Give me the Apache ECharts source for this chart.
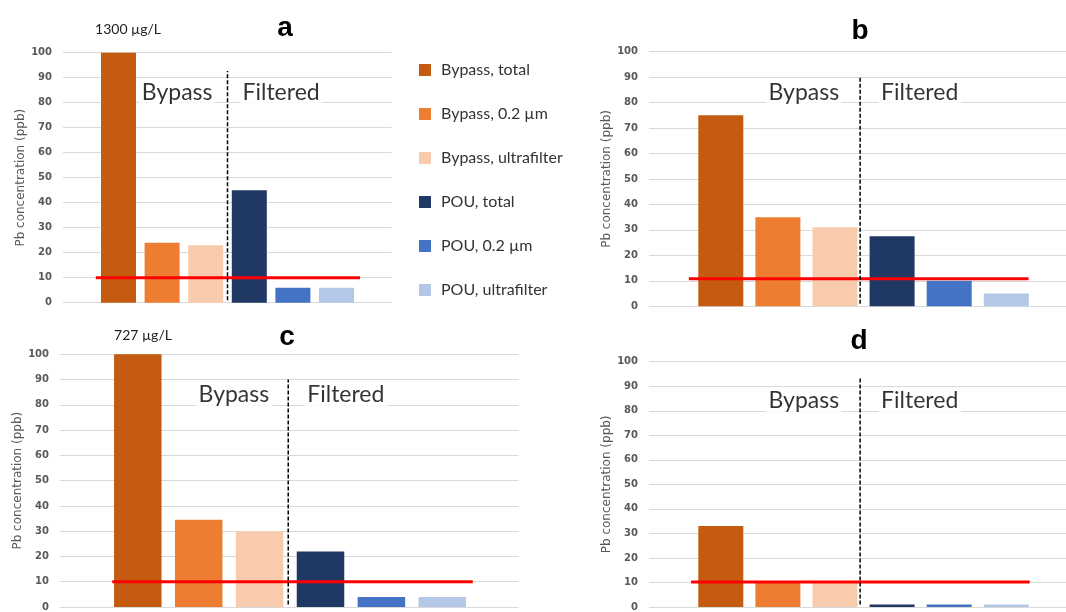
<!DOCTYPE html>
<html>
<head>
<meta charset="utf-8">
<script src="https://cdn.jsdelivr.net/npm/echarts@6/dist/echarts.min.js"></script>
<style>
  html, body { margin: 0; padding: 0; background: #fff; }
  #main { width: 1066px; height: 612px; }
</style>
</head>
<body>
<div id="main"></div>
<script>
// series (one bar per fraction, same in every panel)
var seriesNames = ['Bypass, total', 'Bypass, 0.2 µm', 'Bypass, ultrafilter', 'POU, total', 'POU, 0.2 µm', 'POU, ultrafilter'];

// Pb values (ppb)
var panelA = [1300, 24, 23, 45, 6, 6];
var panelB = [75, 35, 31, 27.5, 10, 5];
var panelC = [727, 34.5, 30, 22, 4, 4];
var panelD = [33, 10, 10, 1, 1, 1];

var panelNames = ['a', 'b', 'c', 'd'];
var offscaleNotes = ['1300 µg/L', '', '727 µg/L', ''];
var actionLevel = [10, 10.8, 10, 10.2];
var yTicks = [0, 10, 20, 30, 40, 50, 60, 70, 80, 90, 100];

var colors = ['#C55A11', '#ED7D31', '#F8CBAD', '#203864', '#4472C4', '#B4C7E7'];

// layout of the four panels (pixels)
var layout = [
  { left: 63,  top: 52.7,  width: 328.7, height: 250,   x0: 118.5, step: 43.6, bw: 35,   lineFrom: -0.52, lineTo: 5.54, divX: 2.5,  divTop: 92.7, labDist: 12, title: [285, 14], note: [128, 22] },
  { left: 649, top: 51.7,  width: 417,   height: 254.5, x0: 720.8, step: 57.1, bw: 45,   lineFrom: -0.56, lineTo: 5.39, divX: 2.44, divTop: 90,   labDist: 18, title: [860, 17], note: null },
  { left: 60,  top: 354.3, width: 458.3, height: 256,   x0: 137.8, step: 60.9, bw: 47.5, lineFrom: -0.42, lineTo: 5.5,  divX: 2.47, divTop: 90,   labDist: 16, title: [287, 323], note: [143, 328] },
  { left: 649, top: 361.7, width: 417,   height: 248.5, x0: 720.8, step: 57.1, bw: 45,   lineFrom: -0.52, lineTo: 5.41, divX: 2.44, divTop: 94,   labDist: 18, title: [859, 327], note: null }
];

var panels = [panelA, panelB, panelC, panelD];

var grids = [], xAxes = [], yAxes = [], series = [], titles = [];

panels.forEach(function (vals, p) {
  var L = layout[p];
  grids.push({ left: L.left, top: L.top, width: L.width, height: L.height });
  xAxes.push({
    gridIndex: p, type: 'value',
    min: (L.left - L.x0) / L.step,
    max: (L.left + L.width - L.x0) / L.step,
    axisLine: { show: false }, axisTick: { show: false },
    axisLabel: { show: false }, splitLine: { show: false }
  });
  yAxes.push({
    gridIndex: p, type: 'value', min: yTicks[0], max: yTicks[yTicks.length - 1], interval: 10,
    name: 'Pb concentration (ppb)', nameLocation: 'middle', nameGap: 34,
    nameTextStyle: { fontFamily: 'DejaVu Sans', fontSize: 12, color: '#595959' },
    axisLine: { show: false }, axisTick: { show: false },
    axisLabel: { margin: 11, fontFamily: 'DejaVu Sans', fontSize: 10, fontWeight: 'bold', color: '#595959' },
    splitLine: { lineStyle: { color: '#D9D9D9', width: 1 } }
  });

  vals.forEach(function (v, i) {
    series.push({
      name: seriesNames[i], type: 'bar',
      xAxisIndex: p, yAxisIndex: p,
      barWidth: L.bw, barGap: '-100%',
      itemStyle: { color: colors[i] },
      data: [[i, v]]
    });
  });

  // action level line
  series.push({
    type: 'line', xAxisIndex: p, yAxisIndex: p, symbol: 'none', silent: true, z: 5,
    lineStyle: { color: '#FF0000', width: 3 },
    data: [[L.lineFrom, actionLevel[p]], [L.lineTo, actionLevel[p]]]
  });

  // bypass / filtered divider
  series.push({
    type: 'line', xAxisIndex: p, yAxisIndex: p, symbol: 'none', silent: true, z: 5,
    lineStyle: { color: '#000', width: 1.5, type: [4, 2] },
    data: [[L.divX, 1], [L.divX, L.divTop]]
  });

  var labelStyle = { show: true, fontFamily: 'Lato', fontSize: 23, color: '#000',
                     backgroundColor: '#fff', padding: [1, 3], distance: L.labDist };
  series.push({
    type: 'scatter', xAxisIndex: p, yAxisIndex: p, symbolSize: 0, silent: true, z: 6,
    data: [
      { value: [L.divX, 84], label: Object.assign({}, labelStyle, { position: 'left', formatter: 'Bypass' }) },
      { value: [L.divX, 84], label: Object.assign({}, labelStyle, { position: 'right', formatter: 'Filtered' }) }
    ]
  });

  titles.push({
    text: panelNames[p], left: L.title[0], top: L.title[1], textAlign: 'center', padding: 0,
    textStyle: { fontFamily: 'Liberation Sans', fontSize: 28, fontWeight: 'bold', color: '#000' }
  });
  if (offscaleNotes[p]) {
    titles.push({
      text: offscaleNotes[p], left: L.note[0], top: L.note[1], textAlign: 'center', padding: 0,
      textStyle: { fontFamily: 'Lato', fontSize: 14, fontWeight: 'normal', color: '#222' }
    });
  }
});

var option = {
  backgroundColor: '#fff',
  animation: false,
  title: titles,
  legend: {
    data: seriesNames,
    orient: 'vertical', left: 414, top: 57,
    itemWidth: 12, itemHeight: 12, itemGap: 28,
    icon: 'rect',
    textStyle: { fontFamily: 'Lato', fontSize: 16, color: '#333', lineHeight: 16, padding: [0, 0, 0, 5] }
  },
  grid: grids,
  xAxis: xAxes,
  yAxis: yAxes,
  series: series
};

var chart = echarts.init(document.getElementById('main'));
chart.setOption(option);
</script>
</body>
</html>
